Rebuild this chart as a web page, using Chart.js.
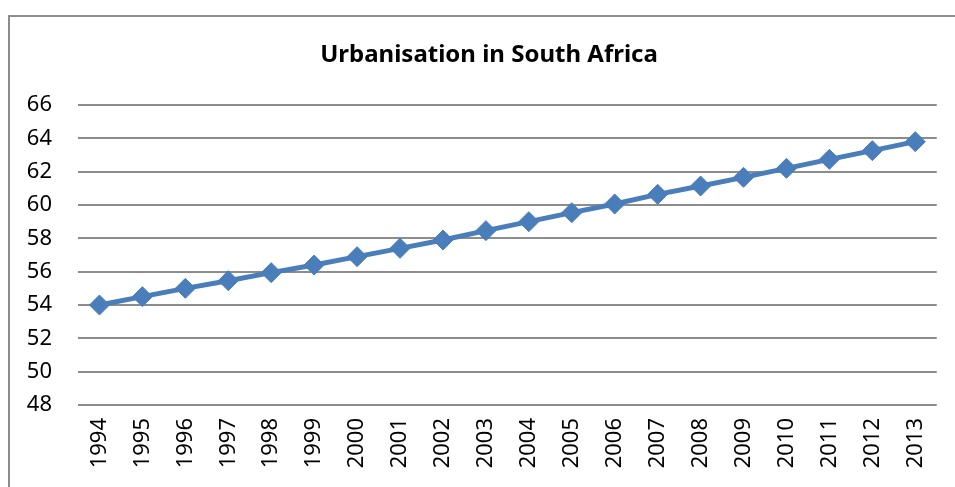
<!DOCTYPE html>
<html>
<head>
<meta charset="utf-8">
<title>Urbanisation in South Africa</title>
<script src="https://cdn.jsdelivr.net/npm/chart.js@4"></script>
<style>
  html, body { margin: 0; padding: 0; background: #fff; overflow: hidden; }
  #wrap { position: relative; width: 955px; height: 487px; }
  #frame {
    position: absolute; left: 8px; top: 15px; width: 1000px; height: 520px;
    border-left: 2px solid #8c8c8c; border-top: 2px solid #8c8c8c;
    pointer-events: none;
  }
</style>
</head>
<body>
<div id="wrap">
  <canvas id="urban-chart" width="955" height="487"></canvas>
  <div id="frame"></div>
</div>
<script>
// Dados
const years = ['1994', '1995', '1996', '1997', '1998', '1999', '2000', '2001', '2002', '2003',
               '2004', '2005', '2006', '2007', '2008', '2009', '2010', '2011', '2012', '2013'];
const urbanPct = [54.0, 54.5, 55.0, 55.46, 55.94, 56.4, 56.9, 57.4, 57.9, 58.46,
                  59.0, 59.54, 60.06, 60.64, 61.14, 61.66, 62.2, 62.74, 63.26, 63.8];
const yTicks = [48, 50, 52, 54, 56, 58, 60, 62, 64, 66];
const chartTitle = 'Urbanisation in South Africa';

const blue = '#4a7ebb';
const fontFamily = '"Noto Sans", "Open Sans", sans-serif';

// título centrado na moldura do gráfico (a moldura passa da borda direita)
const frameTitle = {
  id: 'frameTitle',
  afterDraw(chart) {
    const c = chart.ctx;
    c.save();
    c.font = 'bold 24px ' + fontFamily;
    c.fillStyle = '#000';
    c.textAlign = 'center';
    c.textBaseline = 'middle';
    c.fillText(chartTitle, 489, 55);
    c.restore();
  }
};

const ctx = document.getElementById('urban-chart').getContext('2d');

new Chart(ctx, {
  type: 'line',
  data: {
    labels: years,
    datasets: [{
      label: 'Urbanisation',
      data: urbanPct,
      borderColor: blue,
      backgroundColor: blue,
      borderWidth: 5,
      tension: 0,
      pointStyle: 'rectRot',
      pointRadius: 10,
      pointHoverRadius: 10,
      pointBackgroundColor: blue,
      pointBorderColor: blue,
      pointBorderWidth: 1
    }]
  },
  options: {
    responsive: false,
    animation: false,
    layout: { padding: { left: 0, right: 13, top: 105, bottom: 0 } },
    plugins: {
      legend: { display: false },
      tooltip: { enabled: false },
      title: { display: false }
    },
    scales: {
      x: {
        offset: true,
        grid: { display: false, drawTicks: false },
        border: { display: false },
        ticks: {
          color: '#000',
          minRotation: 90,
          maxRotation: 90,
          autoSkip: false,
          padding: 13,
          font: { family: fontFamily, size: 22 }
        },
        afterFit: function(scale) { scale.height = 82; }
      },
      y: {
        min: yTicks[0],
        max: yTicks[yTicks.length - 1],
        afterBuildTicks: function(scale) {
          scale.ticks = yTicks.map(v => ({ value: v }));
        },
        grid: { color: '#8c8c8c', lineWidth: 2, drawTicks: false },
        border: { display: false },
        ticks: {
          color: '#000',
          padding: 26,
          font: { family: fontFamily, size: 22 }
        },
        afterFit: function(scale) { scale.width = 78; }
      }
    }
  },
  plugins: [frameTitle]
});
</script>
</body>
</html>
